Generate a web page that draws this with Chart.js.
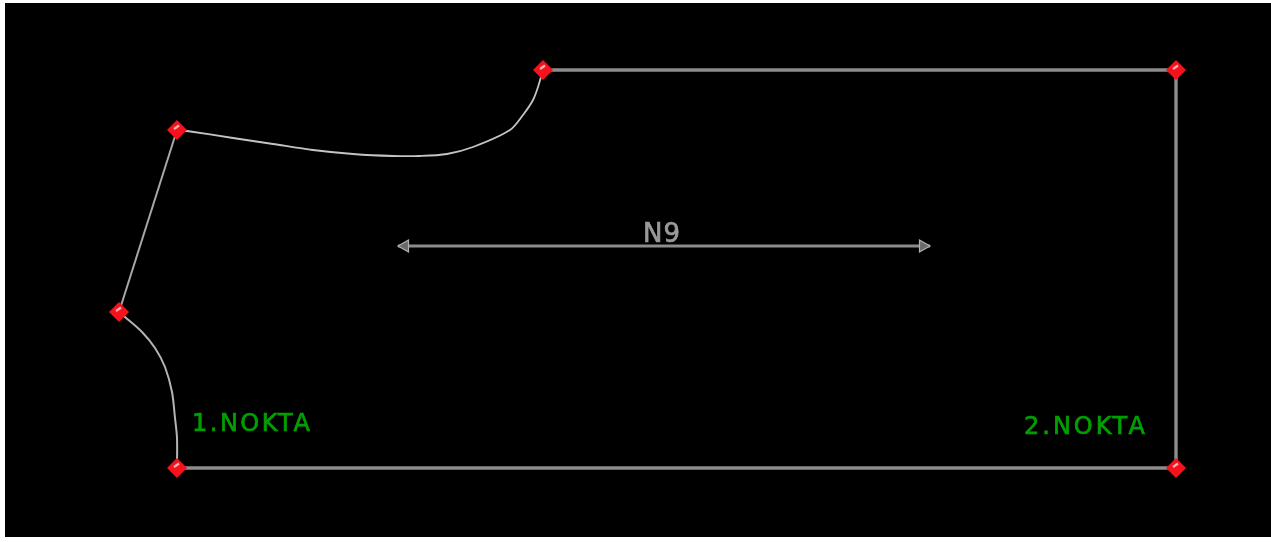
<!DOCTYPE html>
<html>
<head>
<meta charset="utf-8">
<script src="https://cdn.jsdelivr.net/npm/chart.js@4"></script>
<style>
html,body{margin:0;padding:0;background:#fff;overflow:hidden;width:1271px;height:542px}
#panel{position:absolute;left:5px;top:3px;width:1266px;height:534px;background:#000}
#c{position:absolute;left:0;top:0;display:block}
</style>
</head>
<body>
<div id="panel"></div>
<canvas id="c" width="1271" height="542"></canvas>
<script>
const hemX = [543, 1176, 1176, 177];
const hemY = [70, 70, 468, 468];
const neckX = [177, 187, 233, 273, 313, 353, 393, 420, 447, 473, 510, 523, 533, 538, 543];
const neckY = [130, 131, 138, 144, 150, 154, 156, 156, 154, 147, 130, 115, 100, 87, 70];
const sideX = [177, 119];
const sideY = [130, 312];
const armX = [119, 125, 142, 155, 165, 172, 175, 177, 177];
const armY = [312, 317, 332, 348, 367, 392, 418, 438, 468];
const arrowX = [398, 930];
const arrowY = [246, 246];
const arrowHeadX = [405, 923];
const arrowHeadY = [246, 246];
const markerX = [543, 1176, 177, 119, 177, 1176];
const markerY = [70, 70, 130, 312, 468, 468];
const labelTexts = ['1.NOKTA', '2.NOKTA', 'N9'];
const labelX = [192, 1024, 643];
const labelY = [431, 434, 242];

const pts = (xs, ys) => xs.map((x, i) => ({x, y: ys[i]}));

function makeDiamond() {
  const cv = document.createElement('canvas');
  cv.width = 22; cv.height = 22;
  const g = cv.getContext('2d');
  g.fillStyle = '#f5121c';
  g.beginPath(); g.moveTo(11, 1); g.lineTo(21, 11); g.lineTo(11, 21); g.lineTo(1, 11); g.closePath(); g.fill();
  g.strokeStyle = '#ffb0b0'; g.lineWidth = 2.2;
  g.beginPath(); g.moveTo(8, 10); g.lineTo(13, 6.5); g.stroke();
  return cv;
}

const textPlugin = {
  id: 'texts',
  afterDatasetsDraw(chart) {
    const {ctx, scales} = chart;
    const colors = ['#00a000', '#00a000', '#9a9a9a'];
    const sizes = [24, 24, 26];
    const spacing = ['2.5px', '3px', '1px'];
    labelTexts.forEach((t, i) => {
      ctx.save();
      ctx.font = sizes[i] + 'px "DejaVu Sans"';
      ctx.letterSpacing = spacing[i];
      ctx.fillStyle = colors[i];
      ctx.strokeStyle = colors[i];
      ctx.lineWidth = 0.7;
      ctx.textBaseline = 'alphabetic';
      ctx.textAlign = 'left';
      const x = scales.x.getPixelForValue(labelX[i]);
      const y = scales.y.getPixelForValue(labelY[i]);
      ctx.fillText(t, x, y);
      ctx.strokeText(t, x, y);
      ctx.restore();
    });
  }
};

new Chart(document.getElementById('c'), {
  type: 'scatter',
  plugins: [textPlugin],
  data: {
    datasets: [
      {data: pts(markerX, markerY), showLine: false, pointStyle: makeDiamond(), pointRadius: 11},
      {data: pts(hemX, hemY), showLine: true, borderColor: '#8c8c8c', borderWidth: 3.4, pointRadius: 0, tension: 0},
      {data: pts(neckX, neckY), showLine: true, borderColor: '#c4c4c4', borderWidth: 1.8, pointRadius: 0, tension: 0.3},
      {data: pts(sideX, sideY), showLine: true, borderColor: '#a8a8a8', borderWidth: 2, pointRadius: 0, tension: 0},
      {data: pts(armX, armY), showLine: true, borderColor: '#b4b4b4', borderWidth: 2, pointRadius: 0, tension: 0.3},
      {data: pts(arrowHeadX, arrowHeadY), showLine: false, pointStyle: 'triangle', pointRadius: 7,
        rotation: [-90, 90], backgroundColor: '#6a6a6a', borderColor: '#b0b0b0', borderWidth: 1.2},
      {data: pts(arrowX, arrowY), showLine: true, borderColor: '#8c8c8c', borderWidth: 3, pointRadius: 0, tension: 0}
    ]
  },
  options: {
    responsive: false,
    animation: false,
    devicePixelRatio: 1,
    layout: {padding: 0, autoPadding: false},
    plugins: {legend: {display: false}, tooltip: {enabled: false}},
    scales: {
      x: {type: 'linear', display: false, min: 0, max: 1271},
      y: {type: 'linear', display: false, min: 0, max: 542, reverse: true}
    }
  }
});
</script>
</body>
</html>
